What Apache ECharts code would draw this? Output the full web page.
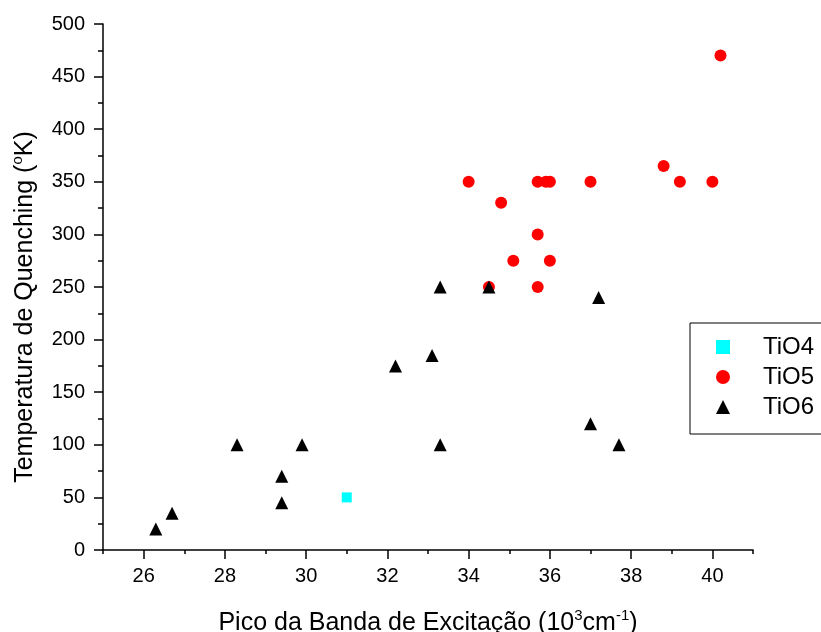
<!DOCTYPE html>
<html>
<head>
<meta charset="utf-8">
<script src="https://cdn.jsdelivr.net/npm/echarts@6/dist/echarts.min.js"></script>
<style>
html,body{margin:0;padding:0;background:#fff;}
#chart{width:821px;height:632px;}
</style>
</head>
<body>
<div id="chart"></div>
<script>
// ---- data ----
var seriesNames = ['TiO4', 'TiO5', 'TiO6'];
var tio4 = [[31.0, 50]];
var tio5 = [
  [34.0, 350], [34.5, 250], [34.8, 330], [35.1, 275], [35.7, 350], [35.7, 300],
  [35.7, 250], [35.9, 350], [36.0, 350], [36.0, 275], [37.0, 350], [38.8, 365],
  [39.2, 350], [40.0, 350], [40.2, 470]
];
var tio6 = [
  [26.3, 20], [26.7, 35], [28.3, 100], [29.4, 70], [29.4, 45], [29.9, 100],
  [32.2, 175], [33.1, 185], [33.3, 250], [33.3, 100], [34.5, 250], [37.0, 120],
  [37.2, 240], [37.7, 100]
];
var xMajorTicks = [26, 28, 30, 32, 34, 36, 38, 40];
var xMinorTicks = [25, 27, 29, 31, 33, 35, 37, 39, 41];

var FONT = '"Liberation Sans", Arial, sans-serif';
var chart = echarts.init(document.getElementById('chart'), null, {renderer: 'canvas'});

var titleRich = {
  t: {fontSize: 25, fontFamily: FONT, color: '#000', lineHeight: 30},
  sup: {fontSize: 15, fontFamily: FONT, color: '#000', verticalAlign: 'top', lineHeight: 14}
};

chart.setOption({
  backgroundColor: '#fff',
  animation: false,
  grid: {left: 103, right: 68, top: 24, bottom: 82, containLabel: false, outerBoundsMode: 'none'},
  legend: {
    orient: 'vertical',
    left: 690,
    top: 323,
    data: seriesNames,
    itemWidth: 14,
    itemHeight: 14,
    itemGap: 6,
    padding: [12, 12, 15, 26],
    borderColor: '#000',
    borderWidth: 1,
    backgroundColor: '#fff',
    formatter: '{n|{name}}',
    textStyle: {
      fontSize: 24, fontFamily: FONT, color: '#000', lineHeight: 24,
      rich: {n: {fontSize: 24, fontFamily: FONT, color: '#000', lineHeight: 24, padding: [0, 0, 0, 28]}}
    }
  },
  xAxis: [{
    type: 'value',
    min: 25,
    max: 41,
    position: 'bottom',
    axisLine: {show: true, onZero: false, lineStyle: {color: '#000', width: 1.5}},
    axisTick: {show: true, inside: false, length: 9, customValues: xMajorTicks, lineStyle: {color: '#000', width: 1.5}},
    axisLabel: {show: true, customValues: xMajorTicks, margin: 16, fontSize: 20, fontFamily: FONT, color: '#000'},
    splitLine: {show: false},
    name: '{t|Pico da Banda de Excitação (10}{sup|3}{t|cm}{sup|-1}{t|)}',
    nameLocation: 'middle',
    nameGap: 58,
    nameTextStyle: {rich: titleRich}
  }, {
    type: 'value',
    min: 25,
    max: 41,
    position: 'bottom',
    axisLine: {show: false},
    axisTick: {show: true, inside: false, length: 4, customValues: xMinorTicks, lineStyle: {color: '#000', width: 1.5}},
    axisLabel: {show: false},
    splitLine: {show: false}
  }],
  yAxis: {
    type: 'value',
    min: 0,
    max: 500,
    interval: 50,
    axisLine: {show: true, onZero: false, lineStyle: {color: '#000', width: 1.5}},
    axisTick: {show: true, inside: false, length: 9, lineStyle: {color: '#000', width: 1.5}},
    minorTick: {show: true, splitNumber: 2, length: 5, lineStyle: {color: '#000', width: 1.5}},
    axisLabel: {margin: 18, fontSize: 20, fontFamily: FONT, color: '#000'},
    splitLine: {show: false},
    minorSplitLine: {show: false},
    name: '{t|Temperatura de Quenching (}{sup|o}{t|K)}',
    nameLocation: 'middle',
    nameRotate: 90,
    nameGap: 63,
    nameTextStyle: {rich: titleRich, padding: [0, 40, 0, 0]}
  },
  series: [{
    name: seriesNames[0],
    type: 'scatter',
    symbol: 'rect',
    symbolSize: 10,
    itemStyle: {color: '#00FFFF', opacity: 1},
    data: tio4
  }, {
    name: seriesNames[1],
    type: 'scatter',
    symbol: 'circle',
    symbolSize: 12,
    itemStyle: {color: '#FF0000', opacity: 1},
    data: tio5
  }, {
    name: seriesNames[2],
    type: 'scatter',
    symbol: 'triangle',
    symbolSize: 13,
    itemStyle: {color: '#000000', opacity: 1},
    data: tio6
  }]
});
</script>
</body>
</html>
